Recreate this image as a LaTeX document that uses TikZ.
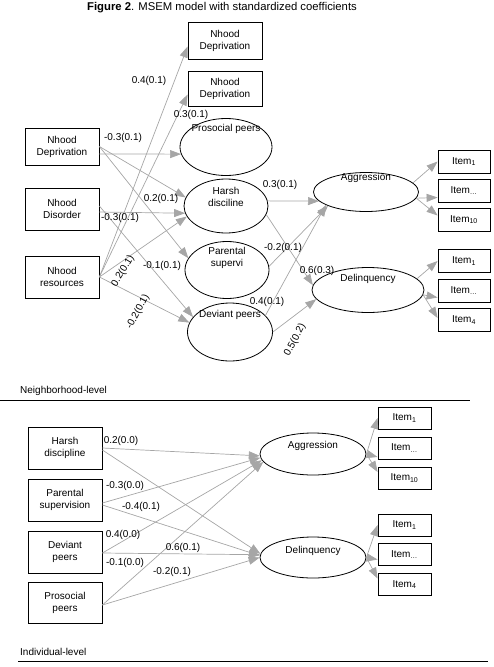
\documentclass[tikz,border=0pt]{standalone}
\usepackage{fontspec}
\setmainfont{Liberation Sans}
\usepackage{tikz}
\usetikzlibrary{shapes.geometric, arrows.meta}

\tikzset{
  obsbox/.style={draw, line width=0.8pt, minimum width=74pt, minimum height=42pt, inner sep=1pt, align=center},
  latent/.style={draw, ellipse, line width=0.8pt, inner sep=0pt},
  itembox/.style={draw, line width=0.8pt, minimum width=53pt, minimum height=22pt, inner sep=1pt},
  link/.style={draw=gray!70, line width=0.7pt, -{Triangle[length=11pt,width=8pt]}},
  coef/.style={inner sep=0.5pt},
  lvl/.style={anchor=west, inner sep=0pt}
}

\begin{document}
\begin{tikzpicture}[x=1pt, y=-1pt, font=\fontsize{10}{12}\selectfont]
  \useasboundingbox (0,0) rectangle (494,667);

  % Titel
  \node[font=\fontsize{11.3}{13}\selectfont] (title) at (222,8) {\textbf{Figure 2}. MSEM model with standardized coefficients};

  % Nachbarschaftsebene: beobachtete Variablen
  \node[obsbox, minimum height=37pt] (nhA) at (225,40.5) {Nhood\\Deprivation};
  \node[obsbox, minimum height=35pt] (nhB) at (225,88.5) {Nhood\\Deprivation};
  \node[obsbox, minimum height=37pt] (depr) at (62,146.5) {Nhood\\Deprivation};
  \node[obsbox] (disord) at (62,209) {Nhood\\Disorder};
  \node[obsbox] (resour) at (62,277) {Nhood\\resources};

  % Nachbarschaftsebene: latente Variablen
  \node[latent, minimum width=92pt, minimum height=57pt] (prosT) at (226,147) {};
  \node (prosTtxt) at (226,129) {Prosocial peers};
  \node[latent, minimum width=84pt, minimum height=54pt] (harsh) at (226,206) {};
  \node[align=center] (harshtxt) at (226,196.5) {Harsh\\disciline};
  \node[latent, minimum width=84pt, minimum height=57pt] (parT) at (227,270) {};
  \node[align=center] (parTtxt) at (227,258) {Parental\\supervi};
  \node[latent, minimum width=85pt, minimum height=58pt] (devT) at (230,332) {};
  \node (devTtxt) at (230,315) {Deviant peers};
  \node[latent, minimum width=105pt, minimum height=39pt] (aggT) at (366,192) {};
  \node (aggTtxt) at (366,178) {Aggression};
  \node[latent, minimum width=112pt, minimum height=45pt] (delT) at (368,290) {};
  \node (delTtxt) at (368,279) {Delinquency};

  % Items oben
  \foreach \y/\s [count=\i] in {161.5/1, 190.5/{\ldots}, 219.5/10} {
    \node[itembox, minimum width=52pt, minimum height=23pt] (itA\i) at (464,\y) {Item\textsubscript{\s}};
  }
  \foreach \y/\s [count=\i] in {261/1, 290.5/{\ldots}, 320/4} {
    \node[itembox, minimum width=52pt, minimum height=23pt] (itD\i) at (464,\y) {Item\textsubscript{\s}};
  }

  % Pfade oben
  \draw[link] ([yshift=-7.5pt]depr.east) -- (prosT.189);
  \draw[link] (depr.east) -- (harsh.168);
  \draw[link] (depr.east) -- (parT.163);
  \draw[link] ([yshift=-3pt]disord.east) -- (harsh.190);
  \draw[link] ([yshift=3pt]disord.east) -- (devT.158);
  \draw[link] (resour.east) -- ([yshift=-6pt]nhA.west);
  \draw[link] (resour.east) -- ([yshift=-6pt]nhB.west);
  \draw[link] (resour.east) -- (harsh.195);
  \draw[link] (resour.east) -- (devT.167);
  \draw[link] (harsh.7) -- (aggT.191);
  \draw[link] (harsh.-12) -- (delT.175);
  \draw[link] (parT.5) -- (aggT.200);
  \draw[link] (devT.25) -- (aggT.198);
  \draw[link] (devT.east) -- (delT.190);
  \draw[link] (aggT.11) -- (itA1.west);
  \draw[link] (aggT.-7) -- ([yshift=-7pt]itA2.west);
  \draw[link] (aggT.-7) -- ([yshift=4pt]itA3.west);
  \draw[link] (delT.13) -- (itD1.west);
  \draw[link] (delT.-5) -- ([yshift=-7pt]itD2.west);
  \draw[link] (delT.-5) -- ([yshift=2pt]itD3.west);

  % Koeffizienten oben
  \foreach \pos/\txt [count=\i] in {{149,81}/0.4(0.1), {191,115}/0.3(0.1), {123,138}/-0.3(0.1),
      {161,199}/0.2(0.1), {120,218}/-0.3(0.1), {162,266}/-0.1(0.1), {280,185}/0.3(0.1),
      {283,248}/-0.2(0.1), {317,271}/0.6(0.3), {267,302}/0.4(0.1)} {
    \node[coef] (cT\i) at (\pos) {\txt};
  }
  \node[coef, rotate=59] (cT11) at (123,271) {0.2(0.1)};
  \node[coef, rotate=62] (cT12) at (138,312) {-0.2(0.1)};
  \node[coef, rotate=62] (cT13) at (295,340) {0.5(0.2)};

  % Ebenen-Trennung
  \node[lvl] (nlevel) at (20,391) {Neighborhood-level};
  \draw[line width=0.8pt] (0,400) -- (470,400);

  % Individualebene
  \node[obsbox] (hdB) at (65,448) {Harsh\\discipline};
  \node[obsbox] (psB) at (65,500) {Parental\\supervision};
  \node[obsbox] (dpB) at (65,552) {Deviant\\peers};
  \node[obsbox, minimum height=41pt] (ppB) at (65,602.5) {Prosocial\\peers};
  \node[latent, minimum width=106pt, minimum height=42pt] (aggB) at (313,454) {};
  \node (aggBtxt) at (313,446) {Aggression};
  \node[latent, minimum width=106pt, minimum height=41pt] (delB) at (313,557.5) {};
  \node (delBtxt) at (313,551) {Delinquency};

  \foreach \y/\s [count=\i] in {418/1, 448/{\ldots}, 478/10} {
    \node[itembox] (itB\i) at (404.5,\y) {Item\textsubscript{\s}};
  }
  \foreach \y/\s [count=\i] in {525/1, 554.5/{\ldots}, 584.5/4} {
    \node[itembox] (itE\i) at (404.5,\y) {Item\textsubscript{\s}};
  }

  % Pfade unten
  \draw[link] (hdB.east) -- (aggB.182);
  \draw[link] ([yshift=-2pt]hdB.east) -- (delB.176);
  \draw[link] ([yshift=-3pt]psB.east) -- (aggB.184);
  \draw[link] ([yshift=-5pt]psB.east) -- (delB.178);
  \draw[link] ([yshift=-1pt]dpB.east) -- (aggB.187);
  \draw[link] ([yshift=-1pt]dpB.east) -- (delB.177);
  \draw[link] ([yshift=-2.5pt]ppB.east) -- (aggB.189);
  \draw[link] ([yshift=-2.5pt]ppB.east) -- (delB.180);
  \draw[link] (aggB.east) -- (itB1.west);
  \draw[link] (aggB.east) -- ([yshift=-9pt]itB2.west);
  \draw[link] (aggB.east) -- ([yshift=6pt]itB3.west);
  \draw[link] (delB.east) -- (itE1.west);
  \draw[link] (delB.east) -- ([yshift=-5pt]itE2.west);
  \draw[link] (delB.east) -- ([yshift=6pt]itE3.west);

  % Koeffizienten unten
  \foreach \pos/\txt [count=\i] in {{121,441}/0.2(0.0), {125,486}/-0.3(0.0), {141,507}/-0.4(0.1),
      {123,535}/0.4(0.0), {183,548}/0.6(0.1), {125,563}/-0.1(0.0), {172,572}/-0.2(0.1)} {
    \node[coef] (cB\i) at (\pos) {\txt};
  }

  \node[lvl] (ilevel) at (20,652) {Individual-level};
  \draw[line width=0.8pt] (18,661) -- (488,661);
\end{tikzpicture}
\end{document}
